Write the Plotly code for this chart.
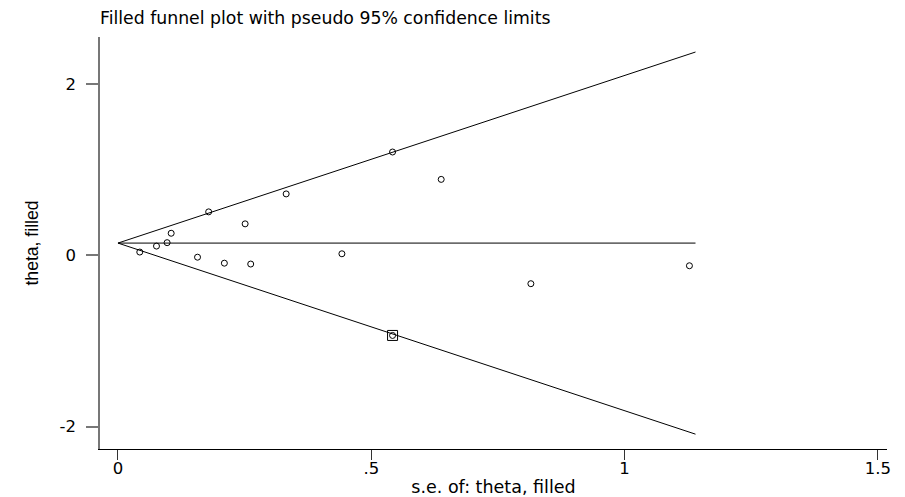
import plotly.graph_objects as go

# Observed studies (s.e., theta)
se_obs = [0.043, 0.076, 0.097, 0.105, 0.157, 0.179, 0.210, 0.251, 0.262, 0.332, 0.442, 0.542, 0.638, 0.815, 1.128]
theta_obs = [0.04, 0.11, 0.15, 0.26, -0.02, 0.51, -0.09, 0.37, -0.10, 0.72, 0.02, 1.21, 0.89, -0.33, -0.12]
# Filled (imputed) study
se_fill = [0.542]
theta_fill = [-0.935]
# Pooled estimate and funnel extent
theta0 = 0.145
se_max = 1.14
z = 1.96

x_ticks = [0, 0.5, 1, 1.5]
x_ticktext = ["0", ".5", "1", "1.5"]
y_ticks = [-2, 0, 2]
y_ticktext = ["-2", "0", "2"]

FONT_H = "DejaVu Sans, Arial, sans-serif"          # horizontal texts (reference is horizontally stretched)
FONT_V = "Arial, Liberation Sans, sans-serif"      # vertical axis title

# page body has an 8px default margin: compensate so the plot lands where the reference has it
OFF = 8
W, H = 905 - OFF, 497 - OFF

fig = go.Figure()
line_style = dict(color="black", width=1)
fig.add_trace(go.Scatter(x=[0, se_max], y=[theta0, theta0 + z * se_max], mode="lines", line=line_style, hoverinfo="skip"))
fig.add_trace(go.Scatter(x=[0, se_max], y=[theta0, theta0 - z * se_max], mode="lines", line=line_style, hoverinfo="skip"))
fig.add_trace(go.Scatter(x=[0, se_max], y=[theta0, theta0], mode="lines", line=line_style, hoverinfo="skip"))
fig.add_trace(go.Scatter(x=se_obs + se_fill, y=theta_obs + theta_fill, mode="markers",
                         marker=dict(symbol="circle-open", size=6, color="black", line=dict(width=1))))
fig.add_trace(go.Scatter(x=se_fill, y=theta_fill, mode="markers",
                         marker=dict(symbol="square-open", size=10, color="black", line=dict(width=1))))

fig.update_layout(
    width=W, height=H,
    margin=dict(l=100 - OFF, r=18, t=37 - OFF, b=48, autoexpand=False),
    paper_bgcolor="white", plot_bgcolor="white",
    showlegend=False,
    font=dict(family=FONT_H, color="black"),
    title=dict(text="Filled funnel plot with pseudo 95% confidence limits",
               x=(100 - OFF) / W, xanchor="left", xref="container",
               y=1 - (18 - OFF) / H, yanchor="middle", yref="container",
               font=dict(size=17.3, family=FONT_H, color="black")),
    xaxis=dict(range=[-0.0355, 1.518], tickvals=x_ticks, ticktext=x_ticktext,
               showgrid=False, zeroline=False, showline=True, linecolor="black", linewidth=1.2,
               ticks="outside", ticklen=10, tickcolor="#333", tickwidth=1,
               tickfont=dict(size=16.5, family=FONT_H), automargin=False, ticklabelstandoff=-6,
               title=dict(text="s.e. of: theta, filled", font=dict(size=17.5, family=FONT_H), standoff=4)),
    yaxis=dict(range=[-2.263, 2.555], tickvals=y_ticks, ticktext=y_ticktext,
               showgrid=False, zeroline=False, showline=True, linecolor="#777", linewidth=1.5,
               ticks="outside", ticklen=12, tickcolor="#777", tickwidth=1.5,
               tickfont=dict(size=16.5, family=FONT_H), automargin=False, ticklabelstandoff=7,
               title=dict(text="theta, filled", font=dict(size=17.6, family=FONT_V), standoff=16)),
)

fig.write_html("out.html")
